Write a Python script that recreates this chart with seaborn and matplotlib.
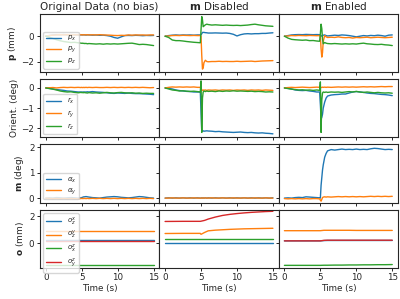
import numpy as np
import pandas as pd
from matplotlib import pyplot as plt
import seaborn as sns

sns.set_style("ticks")
plt.rcParams['font.family'] = ['DejaVu Sans']

# sample times (s) for rows p, r, alpha
t = [0, 0.5, 1, 1.5, 2, 2.5, 3, 3.5, 4, 4.5, 4.9, 5.0, 5.1, 5.2, 5.3, 5.4, 5.6, 5.8, 6,
     6.5, 7, 7.5, 8, 8.5, 9, 9.5, 10, 10.5, 11, 11.5, 12, 12.5, 13, 13.5, 14, 14.5, 15]
# sample times for the offset row
t_o = [0, 2.5, 4.9, 5.0, 5.5, 6, 7, 8, 9, 10, 11, 12, 13, 14, 15]

col_titles = ["Original Data (no bias)", r"$\mathbf{m}$ Disabled", r"$\mathbf{m}$ Enabled"]
row_labels = [r"$\mathbf{p}$ (mm)", "Orient. (deg)", r"$\mathbf{m}$ (deg)", r"$\mathbf{o}$ (mm)"]
p_names = [r"$p_x$", r"$p_y$", r"$p_z$"]
r_names = [r"$r_x$", r"$r_y$", r"$r_z$"]
a_names = [r"$\alpha_x$", r"$\alpha_y$"]
o_names = [r"$o_z^x$", r"$o_z^y$", r"$o_x^z$", r"$o_y^z$"]

# ---- original data (no bias)
orig_px = [0, 0.06, 0.1, 0.12, 0.1, 0.13, 0.1, 0.12, 0.1, 0.09, 0.1, 0.11, 0.1, 0.1, 0.11, 0.1, 0.09, 0.1, 0.1,
           0.08, 0.09, 0.07, 0.08, 0.05, 0.0, -0.1, -0.16, -0.05, 0.05, 0.06, 0.05, 0.07, 0.06, 0.04, 0.06, 0.05, 0.06]
orig_py = [0, 0.05, 0.08, 0.1, 0.12, 0.1, 0.12, 0.1, 0.11, 0.1, 0.12, 0.1, 0.11, 0.1, 0.12, 0.11, 0.1, 0.12, 0.1,
           0.11, 0.1, 0.12, 0.1, 0.09, 0.08, 0.06, 0.05, 0.07, 0.06, 0.1, 0.08, 0.1, 0.09, 0.1, 0.08, 0.1, 0.1]
orig_pz = [0, -0.08, -0.18, -0.28, -0.36, -0.42, -0.46, -0.5, -0.48, -0.52, -0.55, -0.56, -0.55, -0.57, -0.56, -0.58, -0.57, -0.6, -0.58,
           -0.6, -0.62, -0.6, -0.63, -0.6, -0.62, -0.6, -0.62, -0.6, -0.58, -0.56, -0.55, -0.6, -0.66, -0.64, -0.66, -0.7, -0.74]
orig_rx = [0, -0.02, -0.05, -0.08, -0.1, -0.12, -0.15, -0.16, -0.18, -0.2, -0.2, -0.2, -0.21, -0.2, -0.2, -0.2, -0.2, -0.19, -0.2,
           -0.18, -0.2, -0.21, -0.22, -0.24, -0.26, -0.27, -0.25, -0.26, -0.27, -0.25, -0.27, -0.28, -0.28, -0.29, -0.3, -0.31, -0.33]
orig_ry = [0, 0.01, 0.02, 0.0, 0.02, 0.03, 0.02, 0.03, 0.02, 0.03, 0.02, 0.03, 0.02, 0.02, 0.03, 0.02, 0.03, 0.02, 0.03,
           0.02, 0.03, 0.02, 0.02, 0.03, 0.02, 0.03, 0.02, 0.03, 0.02, 0.03, 0.02, 0.03, 0.02, 0.03, 0.02, 0.01, 0.02]
orig_rz = [0, -0.03, -0.06, -0.1, -0.15, -0.18, -0.2, -0.19, -0.22, -0.24, -0.22, -0.23, -0.22, -0.24, -0.22, -0.23, -0.24, -0.25, -0.23,
           -0.25, -0.24, -0.26, -0.24, -0.22, -0.24, -0.25, -0.23, -0.22, -0.24, -0.25, -0.24, -0.26, -0.25, -0.27, -0.26, -0.27, -0.27]
orig_ax = [0, 0.01, 0.0, 0.02, 0.01, 0.0, 0.01, 0.02, 0.01, 0.0, 0.01, 0.02, 0.03, 0.04, 0.05, 0.05, 0.06, 0.05, 0.04,
           0.02, 0.01, 0.0, 0.02, 0.04, 0.05, 0.06, 0.05, 0.03, 0.02, 0.01, 0.02, 0.04, 0.06, 0.05, 0.03, 0.01, 0.0]
orig_ay = [0, -0.01, -0.02, -0.01, -0.02, -0.01, -0.02, -0.01, -0.02, -0.02, -0.02, -0.01, -0.02, -0.01, -0.02, -0.01, -0.02, -0.01, -0.02,
           -0.01, -0.02, -0.01, -0.02, -0.01, -0.02, -0.01, -0.02, -0.01, -0.02, -0.01, -0.02, -0.01, -0.02, -0.01, -0.02, -0.01, -0.02]
orig_o1 = [0.2, 0.2, 0.2, 0.2, 0.2, 0.2, 0.2, 0.2, 0.2, 0.2, 0.2, 0.2, 0.2, 0.2, 0.2]
orig_o2 = [0.91, 0.91, 0.91, 0.91, 0.91, 0.91, 0.91, 0.91, 0.91, 0.91, 0.91, 0.91, 0.91, 0.91, 0.91]
orig_o3 = [-1.62, -1.62, -1.62, -1.62, -1.62, -1.62, -1.62, -1.62, -1.62, -1.62, -1.62, -1.62, -1.62, -1.62, -1.62]
orig_o4 = [0.13, 0.13, 0.13, 0.13, 0.13, 0.13, 0.13, 0.13, 0.13, 0.13, 0.13, 0.13, 0.13, 0.13, 0.13]

# ---- m disabled
dis_px = [0, 0.05, 0.08, 0.1, 0.08, 0.1, 0.09, 0.1, 0.08, 0.1, 0.1, 0.1, 0.2, 0.3, 0.3, 0.3, 0.28, 0.27, 0.25,
          0.25, 0.26, 0.25, 0.24, 0.25, 0.22, 0.15, 0.02, 0.12, 0.18, 0.2, 0.18, 0.2, 0.2, 0.22, 0.22, 0.25, 0.27]
dis_py = [0, 0.02, 0.05, 0.06, 0.05, 0.07, 0.06, 0.05, 0.06, 0.05, 0.05, 0.0, -1.5, -2.6, -2.5, -2.1, -1.9, -2.0, -2.02,
          -2.0, -2.0, -1.98, -2.0, -1.99, -2.0, -2.0, -1.98, -2.0, -1.99, -1.98, -1.97, -2.0, -1.98, -1.96, -1.95, -1.94, -1.93]
dis_pz = [0, -0.1, -0.3, -0.35, -0.35, -0.38, -0.42, -0.45, -0.48, -0.5, -0.52, 0.5, 1.55, 1.3, 0.75, 0.8, 0.9, 0.95, 0.92,
          0.88, 0.9, 0.88, 0.86, 0.88, 0.86, 0.85, 0.86, 0.84, 0.86, 0.88, 0.92, 0.95, 0.9, 0.86, 0.82, 0.8, 0.78]
dis_rx = [0, -0.02, -0.05, -0.1, -0.13, -0.15, -0.17, -0.18, -0.2, -0.2, -0.2, -1.2, -2.15, -2.13, -2.12, -2.14, -2.13, -2.12, -2.13,
          -2.14, -2.16, -2.15, -2.17, -2.18, -2.19, -2.2, -2.19, -2.18, -2.2, -2.21, -2.2, -2.22, -2.23, -2.22, -2.24, -2.25, -2.27]
dis_ry = [0, 0.03, 0.05, 0.04, 0.05, 0.04, 0.05, 0.04, 0.05, 0.03, 0.03, 0.0, -0.1, -0.12, -0.1, -0.11, -0.1, -0.12, -0.1,
          -0.11, -0.1, -0.12, -0.1, -0.11, -0.1, -0.12, -0.1, -0.11, -0.1, -0.12, -0.1, -0.11, -0.1, -0.12, -0.1, -0.11, -0.12]
dis_rz = [0, -0.05, -0.1, -0.12, -0.15, -0.14, -0.16, -0.17, -0.16, -0.18, -0.2, 0.35, -2.2, -0.5, -0.2, -0.15, -0.18, -0.15, -0.17,
          -0.16, -0.18, -0.15, -0.17, -0.15, -0.16, -0.14, -0.16, -0.15, -0.16, -0.17, -0.16, -0.18, -0.17, -0.18, -0.2, -0.19, -0.2]
dis_ax = [0, 0.01, 0.0, 0.01, 0.0, 0.01, 0.0, 0.01, 0.0, 0.01, 0.0, 0.0, 0.01, 0.0, 0.01, 0.0, 0.01, 0.0, 0.01,
          0.0, 0.01, 0.0, 0.01, 0.0, 0.01, 0.0, 0.01, 0.0, 0.01, 0.0, 0.01, 0.0, 0.01, 0.0, 0.01, 0.0, 0.01]
dis_ay = [0, 0.0, 0.01, 0.0, 0.0, 0.01, 0.0, 0.0, 0.01, 0.0, 0.0, 0.0, 0.0, 0.01, 0.0, 0.0, 0.01, 0.0, 0.0,
          0.01, 0.0, 0.0, 0.01, 0.0, 0.0, 0.01, 0.0, 0.0, 0.01, 0.0, 0.0, 0.01, 0.0, 0.0, 0.01, 0.0, 0.0]
dis_o1 = [0.02, 0.02, 0.02, 0.02, 0.02, 0.02, 0.02, 0.02, 0.02, 0.02, 0.02, 0.02, 0.02, 0.02, 0.02]
dis_o2 = [0.72, 0.73, 0.73, 0.66, 0.8, 0.92, 0.97, 1.0, 1.03, 1.05, 1.07, 1.08, 1.09, 1.1, 1.11]
dis_o3 = [0.33, 0.33, 0.33, 0.33, 0.33, 0.33, 0.33, 0.33, 0.33, 0.33, 0.33, 0.33, 0.33, 0.33, 0.33]
dis_o4 = [1.62, 1.63, 1.63, 1.64, 1.7, 1.8, 1.95, 2.07, 2.15, 2.21, 2.26, 2.3, 2.33, 2.36, 2.38]

# ---- m enabled
en_px = [0, 0.05, 0.1, 0.12, 0.13, 0.12, 0.14, 0.13, 0.12, 0.13, 0.12, 0.1, 0.05, 0.0, 0.05, 0.08, 0.1, 0.05, 0.02,
         0.05, 0.08, 0.06, 0.1, 0.08, 0.05, 0.0, -0.05, 0.0, 0.05, 0.02, 0.06, 0.04, 0.08, 0.05, 0.0, 0.08, 0.1]
en_py = [0, 0.02, 0.05, 0.04, 0.06, 0.05, 0.04, 0.06, 0.05, 0.04, 0.05, 0.0, -1.0, -1.65, -1.3, -0.4, 0.05, -0.05, -0.1,
         -0.08, -0.1, -0.05, -0.1, -0.12, -0.1, -0.15, -0.1, -0.12, -0.1, -0.08, -0.12, -0.1, -0.08, -0.1, -0.12, -0.1, -0.08]
en_pz = [0, -0.15, -0.25, -0.28, -0.3, -0.32, -0.3, -0.35, -0.34, -0.38, -0.4, 0.2, 0.95, 0.6, -0.2, -0.6, -0.5, -0.55, -0.58,
         -0.6, -0.58, -0.6, -0.62, -0.6, -0.62, -0.6, -0.62, -0.58, -0.55, -0.6, -0.62, -0.65, -0.66, -0.64, -0.68, -0.7, -0.74]
en_rx = [0, -0.02, -0.05, -0.1, -0.12, -0.13, -0.12, -0.15, -0.17, -0.2, -0.2, -0.8, -1.55, -1.45, -1.3, -1.0, -0.7, -0.5, -0.4,
         -0.35, -0.33, -0.32, -0.3, -0.3, -0.25, -0.2, -0.18, -0.2, -0.22, -0.25, -0.27, -0.28, -0.3, -0.32, -0.33, -0.35, -0.38]
en_ry = [0, 0.02, 0.03, 0.02, 0.03, 0.04, 0.03, 0.02, 0.03, 0.04, 0.03, 0.03, 0.02, 0.03, 0.04, 0.03, 0.04, 0.03, 0.04,
         0.03, 0.04, 0.05, 0.04, 0.05, 0.04, 0.05, 0.04, 0.05, 0.06, 0.05, 0.06, 0.05, 0.06, 0.07, 0.06, 0.07, 0.07]
en_rz = [0, -0.03, -0.06, -0.08, -0.1, -0.09, -0.11, -0.1, -0.12, -0.1, -0.12, 0.3, -2.2, -0.6, -0.25, -0.2, -0.22, -0.2, -0.22,
         -0.2, -0.21, -0.2, -0.22, -0.2, -0.18, -0.2, -0.17, -0.2, -0.22, -0.2, -0.22, -0.24, -0.22, -0.24, -0.25, -0.24, -0.26]
en_ax = [0, 0.01, 0.0, 0.02, 0.03, 0.02, 0.05, 0.04, 0.03, 0.02, 0.01, 0.0, 0.5, 0.8, 1.1, 1.3, 1.6, 1.75, 1.85,
         1.9, 1.88, 1.9, 1.92, 1.9, 1.91, 1.9, 1.92, 1.9, 1.91, 1.9, 1.93, 1.95, 1.94, 1.92, 1.9, 1.91, 1.9]
en_ay = [-0.02, -0.03, -0.02, -0.03, -0.02, -0.03, -0.02, -0.03, -0.02, -0.02, -0.03, -0.08, -0.12, -0.05, 0.02, 0.04, 0.05, 0.04, 0.05,
         0.04, 0.05, 0.06, 0.05, 0.06, 0.05, 0.06, 0.05, 0.06, 0.05, 0.06, 0.07, 0.06, 0.07, 0.06, 0.07, 0.06, 0.07]
en_o1 = [0.17, 0.17, 0.17, 0.17, 0.19, 0.2, 0.2, 0.2, 0.2, 0.2, 0.2, 0.2, 0.2, 0.2, 0.2]
en_o2 = [0.93, 0.93, 0.93, 0.93, 0.96, 0.96, 0.96, 0.96, 0.96, 0.95, 0.95, 0.95, 0.95, 0.95, 0.95]
en_o3 = [-1.66, -1.66, -1.66, -1.66, -1.65, -1.65, -1.64, -1.64, -1.63, -1.63, -1.62, -1.62, -1.61, -1.61, -1.6]
en_o4 = [0.17, 0.17, 0.17, 0.17, 0.21, 0.22, 0.22, 0.22, 0.22, 0.22, 0.22, 0.22, 0.22, 0.22, 0.22]

columns = [
    [[orig_px, orig_py, orig_pz], [orig_rx, orig_ry, orig_rz], [orig_ax, orig_ay], [orig_o1, orig_o2, orig_o3, orig_o4]],
    [[dis_px, dis_py, dis_pz], [dis_rx, dis_ry, dis_rz], [dis_ax, dis_ay], [dis_o1, dis_o2, dis_o3, dis_o4]],
    [[en_px, en_py, en_pz], [en_rx, en_ry, en_rz], [en_ax, en_ay], [en_o1, en_o2, en_o3, en_o4]],
]
names = [p_names, r_names, a_names, o_names]
row_ylim = [(-2.85, 1.75), (-2.45, 0.43), (-0.18, 2.1), (-1.85, 2.5)]
row_yticks = [[-2, 0], [-2, -1, 0], [0, 1, 2], [0, 2]]
row_legend_loc = ["lower left", "lower left", "lower left", "upper left"]

colors = sns.color_palette("tab10", 4)

fig, axes = plt.subplots(4, 3, figsize=(4, 2.99), dpi=100, sharex=True, sharey='row')
fig.subplots_adjust(left=0.1, right=0.995, top=0.953, bottom=0.104, hspace=0.12, wspace=0)

for c in range(3):
    for r in range(4):
        ax = axes[r, c]
        tt = t_o if r == 3 else t
        for k, vals in enumerate(columns[c][r]):
            df = pd.DataFrame({"t": tt, "v": vals})
            sns.lineplot(data=df, x="t", y="v", ax=ax, color=colors[k], lw=1.0,
                         label=names[r][k] if c == 0 else None, legend=False)
        ax.set_ylim(row_ylim[r])
        ax.set_yticks(row_yticks[r])
        ax.set_xlim(-0.8, 15.8)
        ax.set_xticks([0, 5, 10, 15])
        ax.tick_params(labelsize=6.3, length=2.5, width=0.7, pad=1.5)
        ax.set_xlabel("Time (s)" if r == 3 else "", fontsize=6.3, labelpad=1)
        ax.set_ylabel(row_labels[r] if c == 0 else "", fontsize=6.5, labelpad=2)
        for s in ax.spines.values():
            s.set_linewidth(0.8)
        if c == 0:
            ax.legend(loc=row_legend_loc[r], fontsize=5.0, handlelength=2.2,
                      labelspacing=0.25, borderpad=0.35, handletextpad=0.8)
    axes[0, c].set_title(col_titles[c], fontsize=7.5, pad=3)

fig.savefig("out.png", dpi=100)
